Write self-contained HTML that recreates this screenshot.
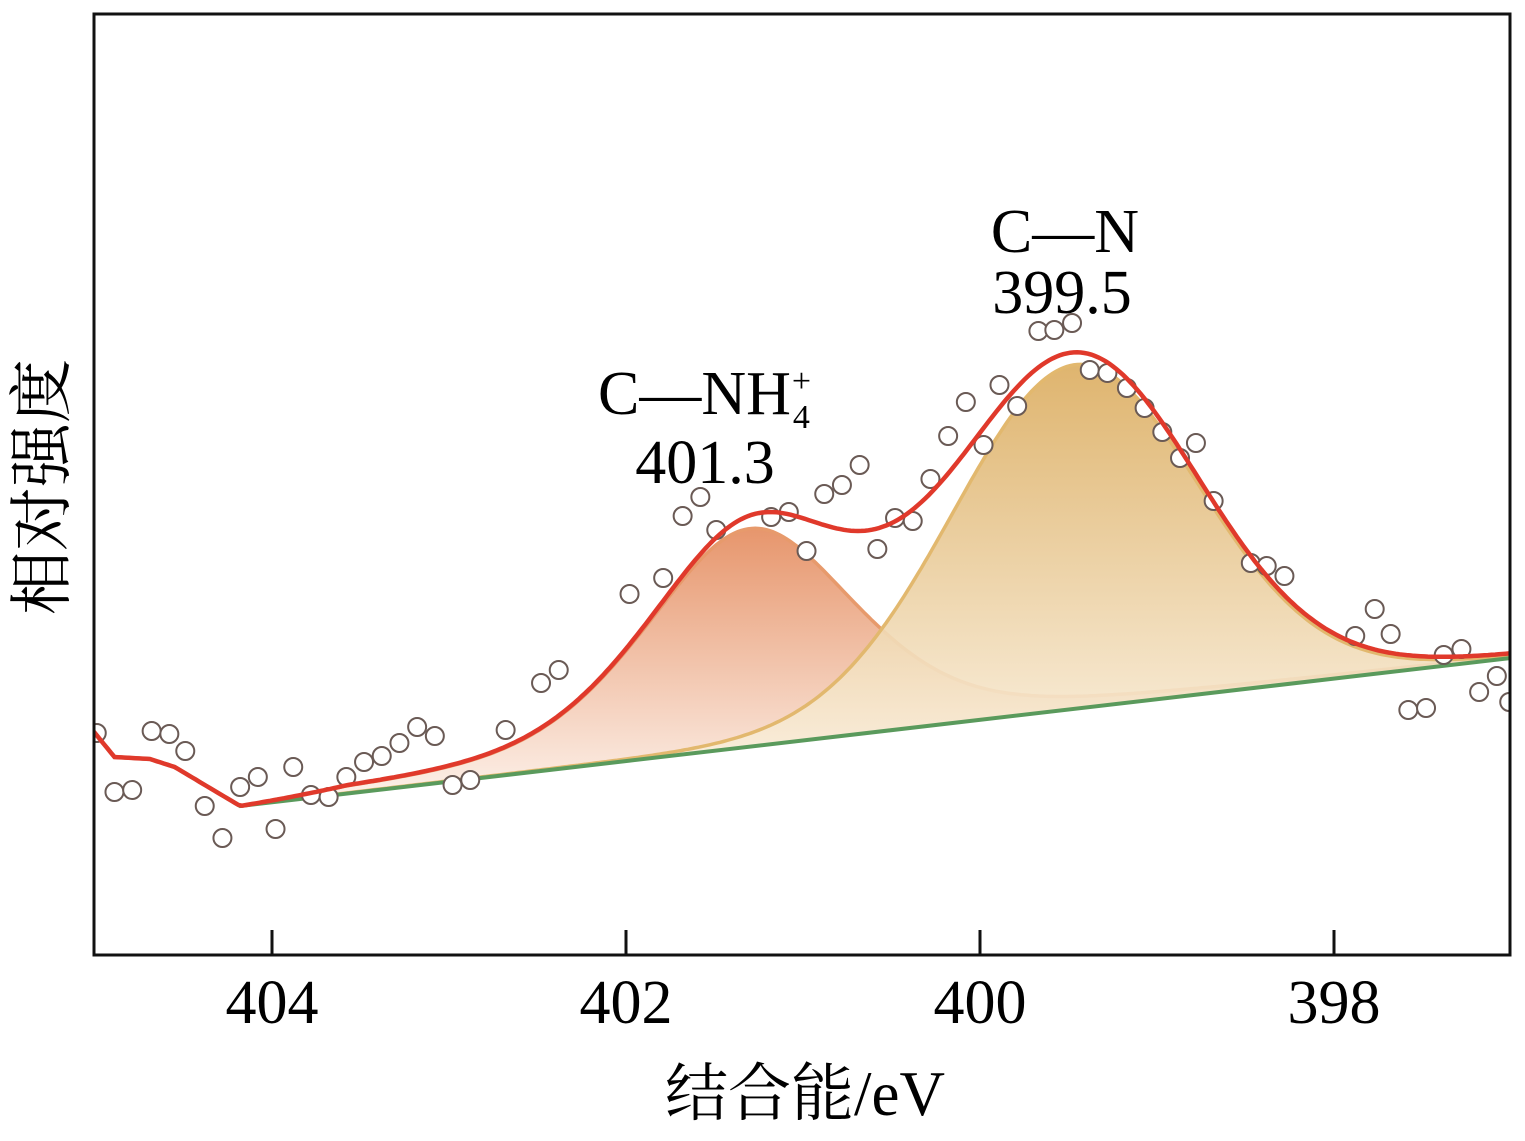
<!DOCTYPE html>
<html><head><meta charset="utf-8">
<style>
html,body{margin:0;padding:0;background:#fff;}
svg{display:block;font-family:"Liberation Serif","Noto Serif CJK SC",serif;}
</style></head>
<body>
<svg id="chart" width="1525" height="1141" viewBox="0 0 1525 1141" xmlns="http://www.w3.org/2000/svg">
<defs>
<linearGradient id="g1" x1="0" y1="0" x2="0" y2="1">
<stop offset="0" stop-color="#e48a5c"/><stop offset="1" stop-color="#fdf3ec"/></linearGradient>
<linearGradient id="g2" x1="0" y1="0" x2="0" y2="1">
<stop offset="0" stop-color="#dcae62"/><stop offset="1" stop-color="#fdf6ea"/></linearGradient>
<clipPath id="plotclip"><rect x="94" y="14" width="1416" height="941"/></clipPath>
</defs>
<g id="plot" clip-path="url(#plotclip)"></g>
<rect x="94" y="14" width="1416" height="941" fill="none" stroke="#111" stroke-width="3"/>
<g id="axis"></g>
<text x="1065" y="252" font-size="62" text-anchor="middle">C—N</text>
<text x="1062" y="313" font-size="62" text-anchor="middle">399.5</text>
<text x="598" y="414" font-size="62">C—NH<tspan font-size="34" dx="2" dy="14">4</tspan><tspan font-size="34" dx="-18" dy="-36">+</tspan></text>
<text x="705" y="483" font-size="62" text-anchor="middle">401.3</text>
<text x="805" y="1115" font-size="63" text-anchor="middle">结合能/eV</text>
<text transform="translate(64,487) rotate(-90)" font-size="64" text-anchor="middle">相对强度</text>
</svg>
<script>
const ticks = [404, 402, 400, 398];
const energies = [404.99,404.89,404.79,404.68,404.58,404.49,404.38,404.28,404.18,404.08,403.98,403.88,403.78,403.68,403.58,403.48,403.38,403.28,403.18,403.08,402.98,402.88,402.68,402.48,402.38,401.98,401.79,401.68,401.58,401.49,401.18,401.08,400.98,400.88,400.78,400.68,400.58,400.48,400.38,400.28,400.18,400.08,399.98,399.89,399.79,399.67,399.58,399.48,399.38,399.28,399.17,399.07,398.97,398.87,398.78,398.68,398.47,398.38,398.28,397.88,397.77,397.68,397.58,397.48,397.38,397.28,397.18,397.08,397.01];
const intensities = [222,163,165,224,221,204,149,117,168,178,126,188,160,158,178,193,199,212,228,219,170,175,225,272,285,361,377,439,458,425,438,443,404,461,470,490,406,437,434,476,519,553,510,570,549,624,625,632,585,582,567,547,523,497,512,454,392,389,379,319,346,321,245,247,300,306,263,279,253];
const baselineE = [405.01,404.89,404.69,404.55,404.18,397.0];
const baselineI = [224,198,196,188,149,297];
const peakCenters = [401.3, 399.46];
const peakHeights = [218, 344];
const peakSigmas = [0.6, 0.7];
const peakMix = [0.4, 0.05];

const X = e => 272 + (404 - e) * 177;
const Y = v => 955 - v;
const NS = "http://www.w3.org/2000/svg";
function mk(tag, attrs, parent){const el=document.createElementNS(NS,tag);for(const k in attrs)el.setAttribute(k,attrs[k]);parent.appendChild(el);return el;}
function base(e){
  for(let i=0;i<baselineE.length-1;i++){
    const a=baselineE[i],b=baselineE[i+1];
    if(e<=a && e>=b){return baselineI[i]+(baselineI[i+1]-baselineI[i])*(a-e)/(a-b);}
  }
  return e>baselineE[0]?baselineI[0]:baselineI[baselineI.length-1];
}
function gauss(k,e){
  if(e>404.18) return 0;
  const s=peakSigmas[k], d=(e-peakCenters[k]);
  const g=Math.exp(-0.5*(d/s)*(d/s));
  const hw=1.177*s;
  const l=1/(1+(d/hw)*(d/hw));
  const fade=Math.min(1,(404.18-e)/0.6);
  return peakHeights[k]*((1-peakMix[k])*g+peakMix[k]*l*fade);
}
const plot=document.getElementById('plot');
const axis=document.getElementById('axis');
const eMax=405.01,eMin=397.0,step=0.02;
const es=[];for(let e=eMax;e>=eMin-1e-9;e-=step)es.push(e);
const names=['peak-cnh4-area','peak-cn-area'];
const outlines=['#e79a6c','#e2b86e'];
for(let k=0;k<2;k++){
  let top='',bot='';
  es.forEach((e,i)=>{top+=(i?'L':'M')+X(e).toFixed(1)+','+Y(base(e)+gauss(k,e)).toFixed(1);});
  for(let i=es.length-1;i>=0;i--){bot+='L'+X(es[i]).toFixed(1)+','+Y(base(es[i])).toFixed(1);}
  const f=mk('path',{d:top+bot+'Z',fill:k?'url(#g2)':'url(#g1)',opacity:k?0.92:0.9},plot);
  
  
  const o=mk('path',{d:top,fill:'none',stroke:outlines[k],'stroke-width':3.5},plot);
  
  
}
let bd='';baselineE.forEach((e,i)=>{bd+=(i?'L':'M')+X(e)+','+Y(baselineI[i]);});
const bl=mk('path',{d:bd,fill:'none',stroke:'#5a9a5c','stroke-width':4},plot);


energies.forEach((e,i)=>{
  const c=mk('circle',{cx:X(e),cy:Y(intensities[i]),r:9,fill:'#fff',stroke:'#6a5a55','stroke-width':2},plot);
  
  
});
let ed='';es.forEach((e,i)=>{ed+=(i?'L':'M')+X(e).toFixed(1)+','+Y(base(e)+gauss(0,e)+gauss(1,e)).toFixed(1);});
const env=mk('path',{d:ed,fill:'none',stroke:'#e0392b','stroke-width':4.5},plot);


ticks.forEach(t=>{
  const l=mk('line',{x1:X(t),x2:X(t),y1:955,y2:930,stroke:'#111','stroke-width':3},axis);
  
  
  const tx=mk('text',{x:X(t),y:1023,'font-size':62,'text-anchor':'middle'},axis);
  tx.textContent=t;
  
  
});
</script>
</body></html>
